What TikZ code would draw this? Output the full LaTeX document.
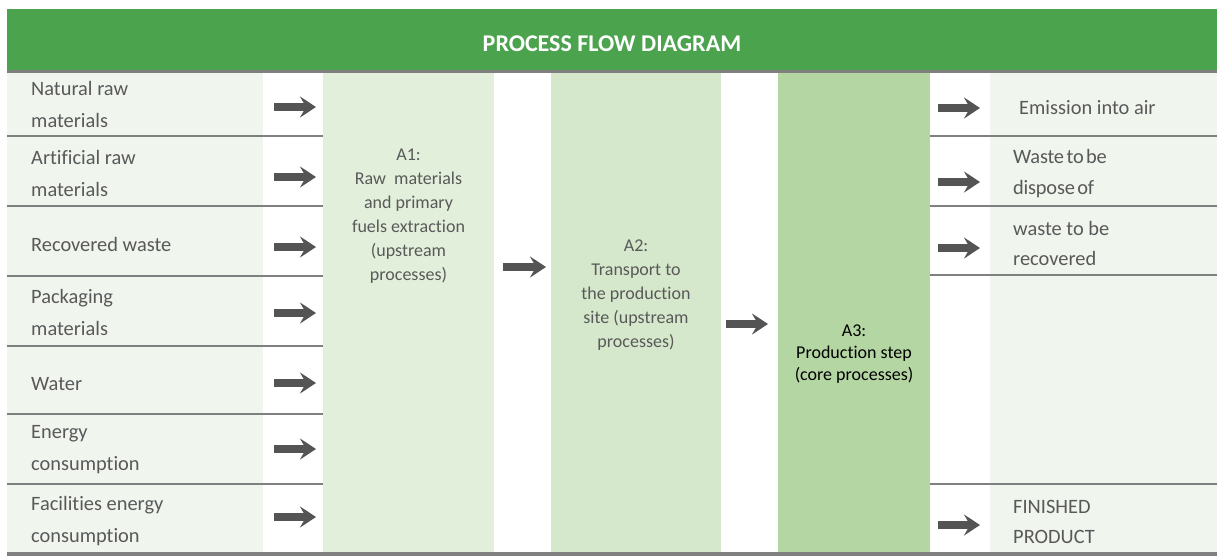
\documentclass[tikz,border=0pt]{standalone}
\usepackage{fontspec}
\setmainfont{Carlito}[RawFeature={-liga;-clig;-calt;-dlig}]
\newfontfamily\condfont{Carlito}[RawFeature={-liga;-clig;-calt;-dlig},LetterSpace=-1,WordSpace=0.55]
\usetikzlibrary{arrows.meta}
\definecolor{hdrgreen}{HTML}{4BA34E}
\definecolor{cellbg}{HTML}{F0F5EE}
\definecolor{aone}{HTML}{E2EFDB}
\definecolor{atwo}{HTML}{D5E8CB}
\definecolor{athree}{HTML}{B4D6A3}
\definecolor{txtgray}{HTML}{595959}
\definecolor{linegray}{HTML}{808080}
\definecolor{arrgray}{HTML}{545454}
\begin{document}
\begin{tikzpicture}[x=1pt,y=-1pt,
  colbox/.style={draw=none, inner sep=0, outer sep=0, anchor=north west},
  sepline/.style={draw=linegray, line width=2.4pt},
  thickline/.style={draw=linegray, line width=3.2pt},
  flowarr/.style={draw=arrgray, line width=7.5pt, -{Stealth[length=16pt,width=21pt,inset=6pt]}},
  lbl/.style={text=txtgray, font=\fontsize{20.4}{32}\selectfont, align=left, anchor=west, inner sep=0},
  rlbl/.style={text=txtgray, font=\fontsize{20.4}{30}\selectfont, align=left, anchor=west, inner sep=0},
  atext/.style={text=txtgray, font=\fontsize{18}{24}\selectfont, align=center, inner sep=0},
  hdrtext/.style={text=white, font=\fontsize{24}{28}\selectfont\bfseries, inner sep=0}
]
\useasboundingbox (0,0) rectangle (1217,558);
% header
\node[colbox, fill=hdrgreen, minimum width=1210pt, minimum height=61pt] (hdr) at (7,9) {};
\node[hdrtext] (title) at (612,44) {PROCESS FLOW DIAGRAM};
\draw[thickline] (7,71.5) -- (1217,71.5);
% side cells
\node[colbox, fill=cellbg, minimum width=256pt, minimum height=480pt] (leftcol) at (7,73) {};
\node[colbox, fill=cellbg, minimum width=227pt, minimum height=480pt] (rightcol) at (990,73) {};
% process columns
\node[colbox, fill=aone, minimum width=171pt, minimum height=480pt] (A1) at (323,73) {};
\node[colbox, fill=atwo, minimum width=170pt, minimum height=480pt] (A2) at (551,73) {};
\node[colbox, fill=athree, minimum width=152pt, minimum height=480pt] (A3) at (778,73) {};
% left separators
\foreach \y in {136,206,276,346,414,484}{
  \draw[sepline] (7,\y) -- (323,\y);
}
% right separators
\foreach \y in {136,206,275,484}{
  \draw[sepline] (930,\y) -- (1217,\y);
}
\draw[thickline] (7,554) -- (1217,554);
% left labels
\node[lbl] (in1) at (31,104) {Natural raw\\materials};
\node[lbl] (in2) at (31,173.5) {Artificial raw\\materials};
\node[lbl] (in3) at (31,244) {Recovered waste};
\node[lbl] (in4) at (31,312) {Packaging\\materials};
\node[lbl] (in5) at (31,384) {Water};
\node[lbl] (in6) at (31,450) {Energy\\consumption};
\node[lbl] (in7) at (31,521) {Facilities energy\\consumption};
% process texts
\node[atext] (t1) at (408.5,216) {A1:\\Raw\ \ materials\\and primary\\fuels extraction\\(upstream\\processes)};
\node[atext] (t2) at (636,295) {A2:\\Transport to\\the production\\site (upstream\\processes)};
\node[atext, text=black, font=\fontsize{18}{22}\selectfont] (t3) at (854,354) {A3:\\Production step\\(core processes)};
% right labels
\node[rlbl] (out1) at (1019,108) {Emission into air};
\node[rlbl, font=\fontsize{20.4}{31}\condfont] (out2) at (1013,174) {Waste to be\\dispose of};
\node[rlbl] (out3) at (1013,243) {waste to be\\recovered};
\node[rlbl] (out4) at (1013,522) {FINISHED\\PRODUCT};
% left arrows
\foreach \y [count=\i] in {107,177,247,313,383,449,517}{
  \coordinate (ls\i) at (274,\y);
  \coordinate (le\i) at (316,\y);
  \draw[flowarr] (ls\i) -- (le\i);
}
% right arrows
\foreach \y [count=\i] in {108,182,248,525}{
  \coordinate (rs\i) at (938,\y);
  \coordinate (re\i) at (980,\y);
  \draw[flowarr] (rs\i) -- (re\i);
}
% process arrows
\coordinate (p1s) at (503,267);
\coordinate (p1e) at (546,267);
\coordinate (p2s) at (726,324);
\coordinate (p2e) at (768,324);
\draw[flowarr] (p1s) -- (p1e);
\draw[flowarr] (p2s) -- (p2e);
\end{tikzpicture}
\end{document}
